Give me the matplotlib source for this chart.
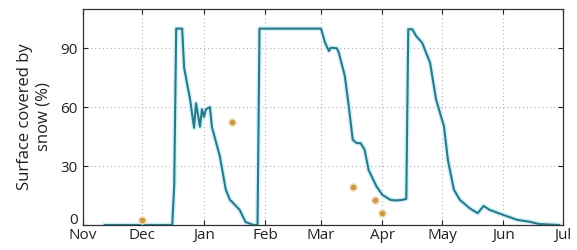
import matplotlib
matplotlib.use("Agg")
import matplotlib.pyplot as plt
import matplotlib.transforms as mtransforms
import pandas as pd

# Modelled snow-covered surface (%)
line_dates = ["2018-11-12", "2018-12-16", "2018-12-17", "2018-12-18", "2018-12-20",
              "2018-12-21", "2018-12-22", "2018-12-25", "2018-12-27", "2018-12-28",
              "2018-12-30", "2018-12-31", "2019-01-01", "2019-01-02", "2019-01-04",
              "2019-01-05", "2019-01-09", "2019-01-12", "2019-01-14", "2019-01-19",
              "2019-01-22", "2019-01-26", "2019-01-28", "2019-01-29", "2019-03-01",
              "2019-03-03", "2019-03-05", "2019-03-06", "2019-03-09", "2019-03-10",
              "2019-03-13", "2019-03-15", "2019-03-17", "2019-03-19", "2019-03-21",
              "2019-03-23", "2019-03-25", "2019-03-29", "2019-04-01", "2019-04-05",
              "2019-04-08", "2019-04-11", "2019-04-13", "2019-04-14", "2019-04-16",
              "2019-04-18", "2019-04-21", "2019-04-25", "2019-04-28", "2019-05-02",
              "2019-05-04", "2019-05-07", "2019-05-10", "2019-05-15", "2019-05-19",
              "2019-05-22", "2019-05-25", "2019-06-01", "2019-06-08", "2019-06-14",
              "2019-06-19", "2019-06-29"]
line_values = [0, 0, 20, 100, 100,
               100, 80, 64, 49.5, 62,
               50, 59, 55, 59, 60,
               50, 35, 18, 13, 7.7,
               1.5, 0, 0, 100, 100,
               93, 88.6, 90.3, 90, 87.7,
               76, 60.5, 43.4, 41.7, 41.7,
               38.3, 28, 19.6, 15.3, 12.8,
               12.5, 12.8, 13.3, 99.7, 99.7,
               96.2, 92.8, 82.6, 64, 50.2,
               33, 18, 12.8, 8.5, 6,
               9.7, 7.7, 5.1, 2.6, 1.7,
               0.5, 0]

# Observations
obs_dates = ["2018-12-01", "2019-01-15", "2019-03-17", "2019-03-28", "2019-04-01"]
obs_values = [2.5, 52.3, 19.6, 12.8, 6.3]

month_ticks = ["2018-11-01", "2018-12-01", "2019-01-01", "2019-02-01", "2019-03-01",
               "2019-04-01", "2019-05-01", "2019-06-01", "2019-07-01"]
month_labels = ["Nov", "Dec", "Jan", "Feb", "Mar", "Apr", "May", "Jun", "Jul"]
y_ticks = [0, 30, 60, 90]

plt.rcParams['font.family'] = ['Open Sans', 'DejaVu Sans']

fig = plt.figure(figsize=(5.77, 2.5), dpi=100)
ax = fig.add_axes([0.1438, 0.10, 0.8319, 0.864])

ld = pd.to_datetime(line_dates)
od = pd.to_datetime(obs_dates)

ax.plot(ld, line_values, color="#d2f3f8", lw=3.6, solid_joinstyle="round", zorder=2)
ax.plot(ld, line_values, color="#2a7a8c", lw=1.5, zorder=3)
ax.scatter(od, obs_values, s=26, color="#cf9a48", edgecolors="#f3ddb5", linewidths=1.0, zorder=4)

ax.set_xlim(pd.Timestamp("2018-11-01"), pd.Timestamp("2019-07-01"))
ax.set_ylim(0, 110)
ax.set_xticks(pd.to_datetime(month_ticks))
ax.set_xticklabels(month_labels)
ax.set_yticks(y_ticks)

ax.grid(True, color="#b0b0b0", linestyle=(0, (1.0, 2.5)), linewidth=0.8)
ax.tick_params(direction="in", top=True, right=True, length=3.5, width=0.8,
               labelsize=11, colors="#222222")
ax.tick_params(axis="x", pad=2)
ax.tick_params(axis="y", pad=4)
for sp in ax.spines.values():
    sp.set_color("#333333")
    sp.set_linewidth(0.9)

# lift the "0" label slightly so it clears the "Nov" label, as in the reference
fig.canvas.draw()
zero_lab = ax.get_yticklabels()[0]
zero_lab.set_transform(zero_lab.get_transform() +
                       mtransforms.ScaledTranslation(0, 7 / 100, fig.dpi_scale_trans))

ax.set_ylabel("Surface covered by\nsnow (%)", fontsize=12, color="#222222", labelpad=6,
              linespacing=1.2)

fig.savefig("out.png", dpi=100)
